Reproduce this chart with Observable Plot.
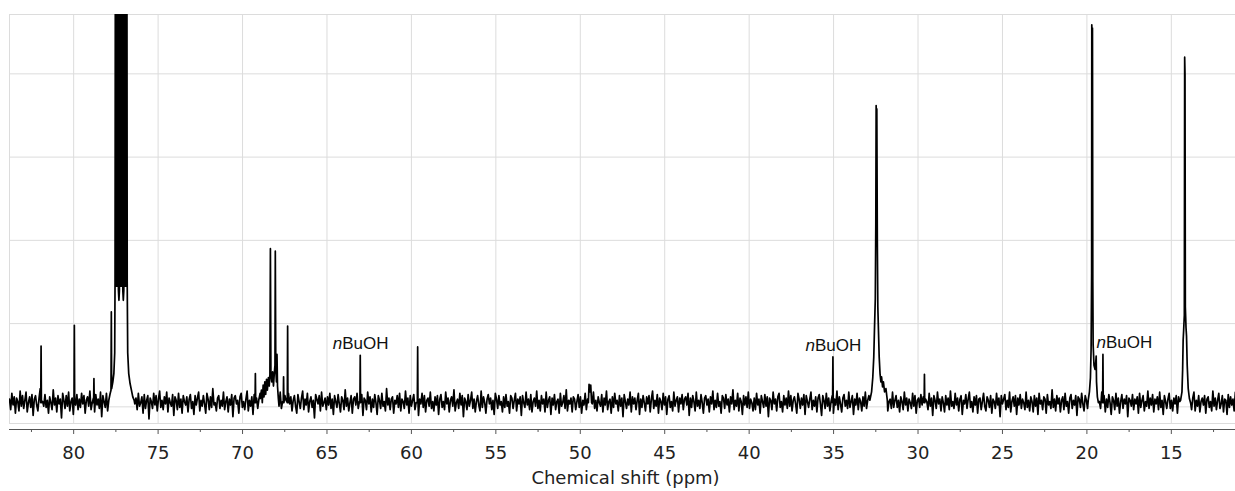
<!DOCTYPE html>
<html><head><meta charset="utf-8">
<script src="https://cdn.jsdelivr.net/npm/d3@7"></script>
<script src="https://cdn.jsdelivr.net/npm/@observablehq/plot@0.6"></script>
<style>body{margin:0;background:#fff} #chart svg{display:block}</style>
</head><body><div id="chart"></div><script>
// ---- data ----
const xDomain = [83.8, 11.2];
const yDomain = [-0.2, 4.713];
const xMajorTicks = [80, 75, 70, 65, 60, 55, 50, 45, 40, 35, 30, 25, 20, 15];
const xMinorTicks = [82.5, 77.5, 72.5, 67.5, 62.5, 57.5, 52.5, 47.5, 42.5, 37.5, 32.5, 27.5, 22.5, 17.5, 12.5];
const yGridValues = [0, 1, 2, 3, 4];
const xLabel = "Chemical shift (ppm)";

// baseline noise, read as deviations every 0.07 ppm from 83.8 ppm
const noiseStart = 83.8, noiseStep = 0.07, noiseBase = 0.05, noiseUnit = 0.014;
const noiseValues = [
3,-6,8,-2,5,-9,4,1,-7,10,-3,6,-5,2,9,-8,0,5,-4,7,-11,3,6,-2,-7,4,12,-5,1,-3,
7,-4,2,-9,5,0,-6,11,-2,4,-8,6,-1,3,-13,8,2,-5,6,-3,9,-7,1,4,-10,5,-2,7,-6,3,
-4,8,-1,6,-9,2,5,-3,10,-6,0,4,-8,7,-2,3,-5,9,-12,6,1,-4,8,-7,2,5,-1,-9,6,3,
-6,4,9,-3,1,-8,7,-2,5,-10,3,6,-4,2,-7,11,-1,4,-6,8,-3,0,5,-9,7,-5,2,6,-14,4,
1,-5,8,-2,6,-7,3,10,-4,2,-6,5,-1,9,-8,4,0,-3,7,-11,5,2,-6,8,-4,3,-9,6,1,-2,
5,-8,3,7,-5,1,-10,6,-2,4,9,-7,2,-3,6,-1,-9,8,3,-6,5,-4,12,-2,0,-7,4,6,-5,2,
-3,9,-6,1,5,-8,3,-2,7,-12,4,6,-1,2,-9,5,8,-4,1,-6,3,10,-7,2,-3,5,-10,7,0,4,
-5,3,8,-7,1,6,-4,2,-9,11,-2,5,-6,3,0,-8,7,4,-3,9,-5,1,-11,6,2,-4,8,-1,5,-7,
2,6,-3,-9,7,1,-5,4,10,-6,3,-2,8,-8,1,5,-4,2,-13,7,3,-1,6,-7,9,-3,0,4,-6,5,
-2,8,-5,3,-10,6,1,-4,7,-1,-8,5,2,-6,11,-3,4,-7,0,6,-9,3,5,-2,8,-5,1,-3,7,-11,
4,2,-6,9,-1,5,-8,3,-4,7,0,-10,6,2,-5,8,-3,1,-7,12,-2,4,-6,3,5,-9,2,-1,6,-4,
8,-7,3,1,-5,10,-2,4,-9,6,-3,2,7,-6,0,5,-11,3,-1,8,-4,6,-8,2,4,-3,9,-5,1,-7,
5,-2,6,-10,3,7,-4,1,-6,9,-1,4,-8,2,5,-3,11,-7,0,3,-5,8,-2,6,-12,4,1,-6,7,-3,
2,9,-5,3,-8,1,6,-2,-7,10,-4,5,0,-9,3,7,-1,4,-6,2,-10,8,3,-5,6,-2,1,-8,5,-4,
7,-3,1,-9,6,4,-5,2,8,-7,3,-1,5,-11,6,0,-4,9,-2,3,-6,7,-8,1,4,-3,10,-5,2,-7,
6,-1,3,-8,9,-4,2,5,-10,4,-2,7,-6,1,3,-9,8,-3,0,6,-5,11,-7,2,-1,4,-8,5,3,-6,
1,7,-4,5,-9,2,-2,8,-6,3,6,-11,4,-1,9,-5,2,-7,5,0,-3,7,-8,4,-2,10,-6,1,3,-9,
5,-4,8,-1,2,-7,6,-3,4,-12,7,1,-5,3,-2,9,-8,5,-1,4,-6,2,8,-10,3,-4,6,0,-7,5,
-1,6,-8,3,10,-5,2,-3,7,-9,4,1,-6,8,-2,5,-10,3,6,-4,1,-7,9,-3,2,5,-8,4,-1,7,
-6,3,5,-2,8,-11,4,-4,6,1,-7,9,-3,2,-5,7,0,-9,4,6,-2,3,-8,5,-1,10,-6,2,-4,8,
-3,1,-9,6,4,-5,7,-2,3,-8,5,-1,11,-6,2,-3,8,-7,4,1,-10,6,-2,5,-4,9,-5,3,0,-7,
4,-6,8,-2,3,-9,6,1,-4,7,-3,5,-12,4,2,-6,9,-1,3,-7,5,8,-4,1,-8,6,-2,4,-5,10,
-3,6,-7,2,5,-1,-9,8,3,-5,4,-2,7,-10,6,1,-4,3,9,-6,2,-3,5,-8,4,7,-1,-11,6,2,
-5,8,-3,4,-7,1,6,-9,3,-2,10,-6,5,-1,-8,4,7,-3,2,-5,9,-4,1,6,-10,3,-2,8,-6,4,
1,-7,5,-3,9,-5,2,6,-8,3,-1,7,-4,11,-6,2,-3,8,-9,4,5,-2,6,-7,1,3,-5,9,-4,2,
6,-4,2,-8,5,1,-6,9,-2,4,-7,3,0,-5,8,-3,6,-9,2,4,
-4,7,-2,5,-9,3,1,-6,8,-3,4,-11,6,2,-5,9,-1,3,-7,5,0,-8,6,-2,4,-6,10,-3,1,-5,
8,-2,4,-7,3,6,-10,2,-1,7,-5,3,9,-4,1,-8,5,-2,6,-9,3,4,-6,1,8,-3,-7,5,2,-4,
6,-9,3,1,-5,8,-2,4,-12,6,-1,3,7,-6,2,-4,9,-8,1,5,-3,6,-10,4,-2,7,-5,3,0,-6,
9,-4,2,-7,5,1,-8,6,-3,4,-10,8,-1,2,-6,5,3,-9,7,-2,1,-5,11,-4,3,-7,6,-1,4,-8,
2,5,-6,8,-3,1,-9,4,7,-5,2,-2,6,-11,5,3,-4,8,-1,-7,6,2,-5,9,-3,4,-8,1,6,-2,
-7,4,1,-5,9,-2,6,-8,3,-4,7,0,-10,5,2,-6,8,-3,4,-9,1,7,-5,3,-1,6,-12,4,2,-3,
7,-6,3,-1,5,-9,8,-4,2,6,-7,1,-3,10,-5,4,-2,7,-8,3,-1,5,-6,9,-4,2,-10,6,1,-5,
3,8,-5,2,-7,4,-1,6,-9,5,1,-4,8,-2,3,-11,7,-3,5,0,-6,4,9,-7,2,-3,6,-8,1,4,
-2,6,-9,3,5,-4,1,-7,10,-3,4,-6,2,8,-5,-1,6,-8,3,2,-10,7,-4,5,-2,3,-7,9,-1,-5,
6,-3,4,-8,1,7,-5,2,-6,9,-2,3,-9,5,4,-1,-7,6,-3,8,-5,1,4,-11,6,-2,3,-6,8,-4
];

// sharp single lines: [ppm, height]
const sharpPeaks = [
  [81.93, 0.73], [79.96, 0.98], [78.8, 0.34], [69.24, 0.40], [67.57, 0.36], [67.33, 0.97],
  [63.03, 0.62], [59.63, 0.72], [35.04, 0.60], [29.62, 0.39], [19.05, 0.63]
];

// CDCl3 triplet with its base (lines run off the top of the frame)
const cdcl3Profile = [
  [77.9,0.1],[77.84,0.16],[77.79,0.2],[77.77,1.14],[77.75,0.22],[77.68,0.3],[77.62,0.4],[77.57,0.65],
  [77.55,1.5],[77.53,6],[77.51,1.45],[77.49,6],[77.47,1.45],[77.45,6],[77.43,1.45],[77.41,6],[77.39,1.45],[77.37,6],[77.35,1.4],
  [77.32,1.28],
  [77.29,1.4],[77.27,6],[77.25,1.45],[77.23,6],[77.21,1.45],[77.19,6],[77.17,1.45],[77.15,6],[77.13,1.45],[77.11,6],[77.09,1.4],
  [77.06,1.28],
  [77.03,1.4],[77.01,6],[76.99,1.45],[76.97,6],[76.95,1.45],[76.93,6],[76.91,1.45],[76.89,6],[76.87,1.45],[76.85,6],[76.83,1.5],
  [76.8,0.65],[76.74,0.4],[76.66,0.28],[76.58,0.2],[76.5,0.12],[76.42,0.08]
];
const region68Profile = [
  [68.95,0.1],[68.88,0.2],[68.83,0.05],[68.78,0.26],[68.73,0.12],[68.68,0.3],[68.63,0.15],[68.58,0.33],
  [68.53,0.2],[68.47,0.35],[68.42,0.25],[68.38,0.38],[68.35,1.9],[68.32,0.4],[68.27,0.3],[68.22,0.42],
  [68.17,0.25],[68.12,0.4],[68.08,0.5],[68.06,1.87],[68.03,0.45],[67.99,0.3],[67.96,0.63],[67.93,0.25],[67.88,0.1]
];
const peak49Profile = [[49.52,0.05],[49.48,0.27],[49.43,0.18],[49.38,0.26],[49.33,0.05]];
const peak32Profile = [
  [32.85,0.08],[32.75,0.18],[32.68,0.35],[32.62,0.6],[32.58,0.92],[32.53,1.3],[32.5,2.2],[32.48,3.62],
  [32.46,3.4],[32.44,3.58],[32.41,2.0],[32.38,1.2],[32.34,0.9],[32.3,0.6],[32.25,0.4],[32.2,0.3],[32.16,0.36],
  [32.1,0.24],[32.05,0.3],[31.98,0.18],[31.9,0.22],[31.82,0.08]
];
const peak19Profile = [
  [19.92,0.08],[19.85,0.18],[19.79,0.35],[19.75,0.7],[19.72,1.6],[19.71,4.59],[19.69,4.4],[19.67,4.55],[19.65,1.5],
  [19.63,0.75],[19.58,0.5],[19.52,0.45],[19.47,0.55],[19.45,0.61],[19.43,0.3],[19.38,0.12],[19.32,0.05]
];
const peak14Profile = [
  [14.45,0.08],[14.37,0.18],[14.33,0.45],[14.3,0.8],[14.27,0.92],[14.23,1.1],[14.21,4.2],[14.19,4.0],[14.17,1.2],
  [14.13,0.95],[14.1,0.85],[14.06,0.5],[14.0,0.22],[13.93,0.1],[13.86,0.05]
];

// nBuOH annotations: [ppm, peak height]
const nBuOHCentered = [[63.03, 0.62], [35.04, 0.60]];
const nBuOHRight = [[19.05, 0.63]];

// ---- build spectrum ----
const profileList = [cdcl3Profile, region68Profile, peak49Profile, peak32Profile, peak19Profile, peak14Profile,
  ...sharpPeaks.map(([p, h]) => [[p + 0.02, noiseBase], [p, h], [p - 0.02, noiseBase]])];
const ranges = profileList.map(pr => [d3.min(pr, d => d[0]), d3.max(pr, d => d[0])]);
const noisePts = noiseValues.map((n, i) => [noiseStart - i * noiseStep, noiseBase + n * noiseUnit])
  .filter(([p]) => !ranges.some(([a, b]) => p >= a - 0.001 && p <= b + 0.001));
const spectrum = noisePts.concat(...profileList).sort((a, b) => b[0] - a[0]).map(([ppm, v]) => ({ppm, v}));

const gridColor = "#dcdcdc";
const labelFont = "Liberation Sans, Arial, sans-serif";

const chart = Plot.plot({
  width: 1235, height: 491,
  marginLeft: 9, marginRight: 0, marginTop: 14, marginBottom: 68,
  style: {fontFamily: "DejaVu Sans, Verdana, sans-serif", fontSize: "18px", background: "#fff", color: "#222"},
  x: {domain: xDomain, label: null},
  y: {domain: yDomain, axis: null},
  marks: [
    Plot.frame({stroke: gridColor}),
    Plot.gridX(xMajorTicks, {stroke: gridColor, strokeOpacity: 1}),
    Plot.gridY(yGridValues, {stroke: gridColor, strokeOpacity: 1}),
    Plot.ruleY([yDomain[0]], {dy: 6, stroke: "#555"}),
    Plot.axisX(xMajorTicks, {tickSize: 5, tickPadding: 12, dy: 6, stroke: "#555", fontSize: 18, tickFormat: d => String(d), label: null}),
    Plot.axisX(xMinorTicks, {tickSize: 3, dy: 6, stroke: "#555", tickFormat: () => "", label: null}),
    Plot.line(spectrum, {x: "ppm", y: "v", stroke: "black", strokeWidth: 1.7, clip: true}),
    Plot.text([xLabel], {frameAnchor: "bottom", dx: 3, dy: 60, fontSize: 18, fill: "#222"}),
    Plot.text(nBuOHCentered, {x: d => d[0], y: d => d[1], text: () => "n", textAnchor: "end", dx: -18, dy: -11.5, fontStyle: "italic", fontFamily: labelFont, fontSize: 17, fill: "#111"}),
    Plot.text(nBuOHCentered, {x: d => d[0], y: d => d[1], text: () => "BuOH", textAnchor: "start", dx: -18, dy: -11.5, fontFamily: labelFont, fontSize: 17, fill: "#111"}),
    Plot.text(nBuOHRight, {x: d => d[0], y: d => d[1], text: () => "n", textAnchor: "end", dx: 3, dy: -11.5, fontStyle: "italic", fontFamily: labelFont, fontSize: 17, fill: "#111"}),
    Plot.text(nBuOHRight, {x: d => d[0], y: d => d[1], text: () => "BuOH", textAnchor: "start", dx: 3, dy: -11.5, fontFamily: labelFont, fontSize: 17, fill: "#111"})
  ]
});
document.getElementById("chart").appendChild(chart);
</script></body></html>
